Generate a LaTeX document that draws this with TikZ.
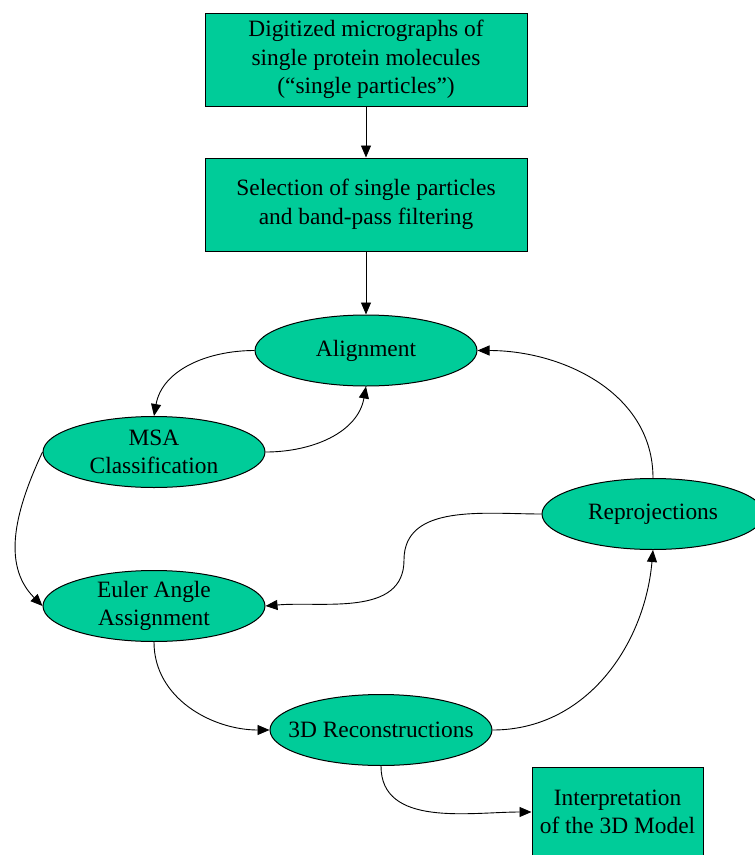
\documentclass[tikz,border=0pt]{standalone}
\usepackage{fontspec}
\setmainfont{Liberation Serif}
\usetikzlibrary{arrows.meta, positioning, shapes.geometric}
\definecolor{cgreen}{HTML}{00CC99}
\tikzset{
  every picture/.style={line width=1pt},
  box/.style={rectangle, draw=black, fill=cgreen, align=center, inner sep=0pt, minimum width=322pt, minimum height=93pt},
  stage/.style={ellipse, draw=black, fill=cgreen, align=center, inner xsep=-30pt, inner ysep=0pt, minimum width=222pt, minimum height=71pt},
  arrow/.style={-{Triangle[length=12pt, width=10pt]}, draw=black, line width=0.9pt},
}

\begin{document}
\begin{tikzpicture}[x=1pt, y=-1pt, font=\fontsize{23.4}{28.5}\selectfont]
  \useasboundingbox (0,0) rectangle (755,855);
  \node[box] (micro) at (366,59.5) {Digitized micrographs of\\single protein molecules\\(“single particles”)};
  \node[box, below=51pt of micro] (select) {Selection of single particles\\and band-pass filtering};
  \node[stage, below=63pt of select] (align) {Alignment};
  \node[stage] (msa) at (154,452) {MSA\\Classification};
  \node[stage] (euler) at (154,606) {Euler Angle\\Assignment};
  \node[stage] (repro) at (653,514) {Reprojections};
  \node[stage] (recon) at (381,730) {3D Reconstructions};
  \node[box, minimum width=171pt, minimum height=90pt] (interp) at (617.5,812) {Interpretation\\of the 3D Model};
  \coordinate (kink) at (404,560);
  \draw[arrow] (micro) -- (select);
  \draw[arrow] (select) -- (align);
  \draw[arrow] (align.west) to[out=180, in=80] (msa.north);
  \draw[arrow] (msa.east) to[out=0, in=-100] (align.south);
  \draw[arrow] (repro.north) to[out=90, in=0] (align.east);
  \draw[arrow] (msa.west) to[out=-115, in=135] (euler.west);
  \draw[arrow] (repro.west) to[out=180, in=90] (kink) to[out=-90, in=5] (euler.east);
  \draw[arrow] (euler.south) to[out=-90, in=180] (recon.west);
  \draw[arrow] (recon.east) to[out=0, in=-95] (repro.south);
  \draw[arrow] (recon.south) to[out=-90, in=180] (interp.west);
\end{tikzpicture}
\end{document}
